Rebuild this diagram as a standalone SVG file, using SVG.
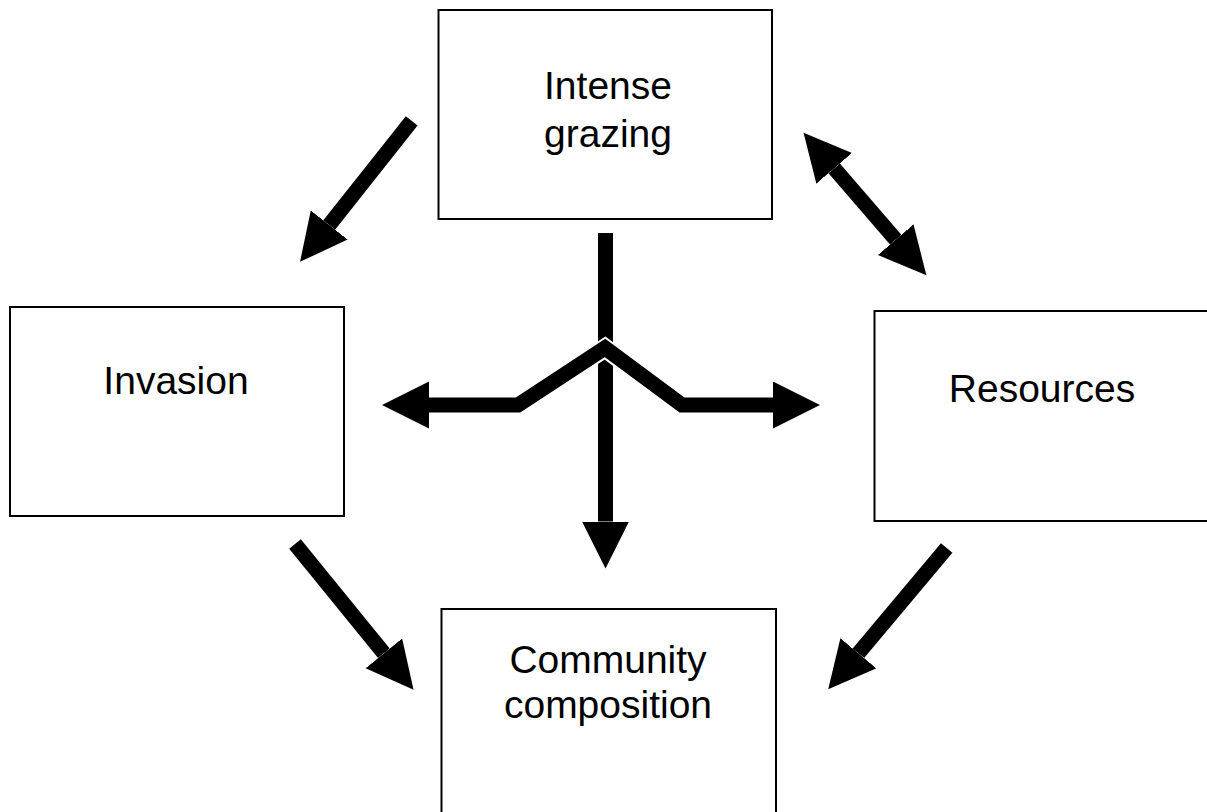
<svg xmlns="http://www.w3.org/2000/svg" width="1207" height="812" viewBox="0 0 1207 812">
<style>
.box{fill:#fff;stroke:#000;stroke-width:2}
.lbl{font-family:"Liberation Sans",Arial,sans-serif;font-size:39px;fill:#000;text-anchor:middle}
.shaft{fill:none;stroke:#000;stroke-width:15}
</style>
<defs>
<marker id="head" markerUnits="userSpaceOnUse" markerWidth="48" markerHeight="48" refX="0" refY="23.5" orient="auto-start-reverse" viewBox="0 0 48 48">
<path d="M0,0 L47,23.5 L0,47 Z" fill="#000"/>
</marker>
</defs>
<rect width="1207" height="812" fill="#fff"/>
<g id="intense-grazing">
<rect class="box" x="438.5" y="10" width="333.5" height="209"/>
<text class="lbl" x="608" y="99">Intense</text>
<text class="lbl" x="608" y="147">grazing</text>
</g>
<g id="invasion">
<rect class="box" x="10" y="307" width="334" height="209"/>
<text class="lbl" x="176" y="394">Invasion</text>
</g>
<g id="resources">
<rect class="box" x="874.5" y="311" width="340" height="210"/>
<text class="lbl" x="1042" y="401.5">Resources</text>
</g>
<g id="community-composition">
<rect class="box" x="441.5" y="609" width="334.5" height="220"/>
<text class="lbl" x="608" y="673">Community</text>
<text class="lbl" x="608" y="718">composition</text>
</g>
<g id="connectors">
<line class="shaft" x1="411.7" y1="120.8" x2="329.2" y2="225" marker-end="url(#head)"/>
<line class="shaft" x1="834.2" y1="168.3" x2="895.7" y2="239.7" marker-start="url(#head)" marker-end="url(#head)"/>
<line class="shaft" x1="295" y1="544" x2="383.9" y2="653.3" marker-end="url(#head)"/>
<line class="shaft" x1="946.7" y1="548" x2="858.4" y2="653.3" marker-end="url(#head)"/>
<line class="shaft" x1="605.5" y1="233" x2="605.5" y2="521.5" marker-end="url(#head)"/>
<polyline points="518,405 605,348 682,405" fill="none" stroke="#fff" stroke-width="19" stroke-linejoin="miter"/>
<polyline class="shaft" points="429,405 518,405 605,348 682,405 773,405" stroke-linejoin="miter" marker-start="url(#head)" marker-end="url(#head)"/>
</g>
</svg>
